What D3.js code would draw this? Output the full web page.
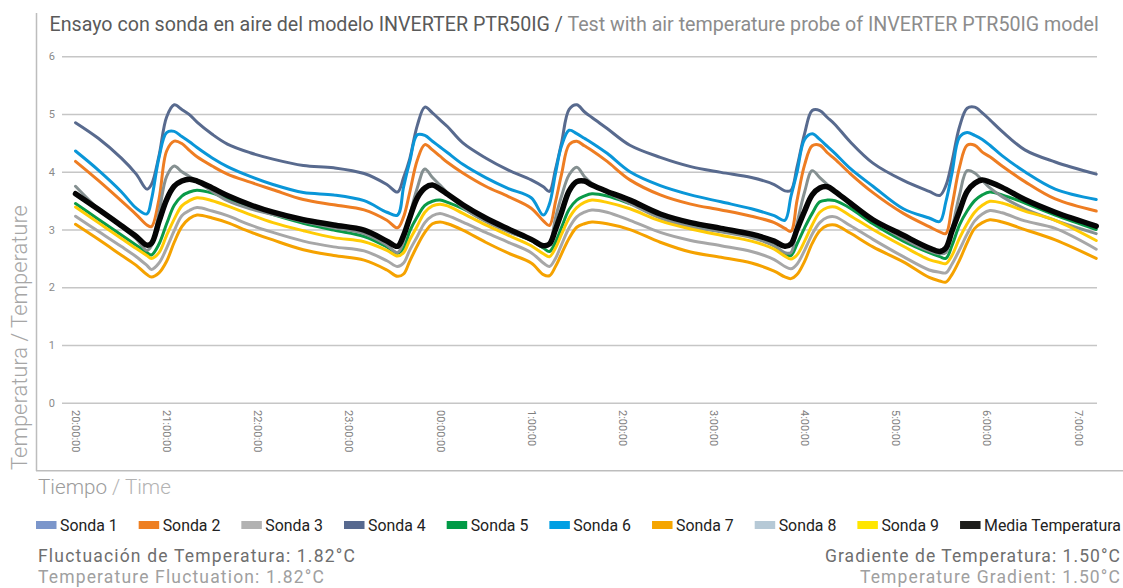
<!DOCTYPE html>
<html><head><meta charset="utf-8">
<script src="https://cdn.jsdelivr.net/npm/d3@7"></script>
<style>body{margin:0;background:#fff;} svg{display:block;font-family:Roboto,"Noto Sans",sans-serif;}</style>
</head><body>
<svg id="c" width="1123" height="588"></svg>
<script>
const times = ["20:00","20:15","20:30","20:40","20:47","20:50","20:55","21:00","21:05","21:10","21:15","21:20","21:30","21:40","21:55","22:10","22:30","22:50","23:10","23:25","23:32","23:36","23:40","23:45","23:50","23:55","00:00","00:05","00:15","00:30","00:45","01:00","01:08","01:12","01:16","01:20","01:25","01:30","01:35","01:40","01:50","02:05","02:25","02:45","03:05","03:25","03:40","03:47","03:51","03:55","04:00","04:05","04:10","04:15","04:20","04:30","04:45","05:05","05:22","05:29","05:33","05:37","05:42","05:47","05:52","05:57","06:02","06:10","06:25","06:45","07:12"];
const tickTimes = ["20:00","21:00","22:00","23:00","00:00","01:00","02:00","03:00","04:00","05:00","06:00","07:00"];
const tickLabels = ["20:00:00","21:00:00","22:00:00","23:00:00","00:00:00","1:00:00","2:00:00","3:00:00","4:00:00","5:00:00","6:00:00","7:00:00"];
const yTicks = [0,1,2,3,4,5,6];
const seriesNames = ["Sonda 1","Sonda 2","Sonda 3","Sonda 4","Sonda 5","Sonda 6","Sonda 7","Sonda 8","Sonda 9","Media Temperatura"];

const sonda1 = [];
const sonda2 = [4.18,3.85,3.50,3.26,3.08,3.05,3.53,4.36,4.53,4.49,4.37,4.26,4.10,3.96,3.82,3.69,3.52,3.43,3.34,3.16,3.03,3.22,3.64,4.20,4.47,4.38,4.27,4.16,3.98,3.75,3.57,3.37,3.15,3.07,3.48,3.96,4.47,4.53,4.45,4.37,4.18,3.86,3.60,3.44,3.34,3.23,3.12,3.02,2.97,3.50,4.12,4.45,4.46,4.33,4.22,3.97,3.64,3.28,3.05,2.96,2.93,3.40,4.08,4.46,4.46,4.34,4.26,4.10,3.83,3.53,3.32];
const sonda3 = [3.23,2.97,2.71,2.53,2.38,2.31,2.42,2.68,2.98,3.24,3.33,3.38,3.32,3.24,3.08,2.95,2.80,2.70,2.63,2.46,2.36,2.42,2.64,2.88,3.12,3.24,3.28,3.24,3.13,2.95,2.78,2.60,2.42,2.36,2.50,2.74,3.03,3.22,3.30,3.34,3.30,3.16,2.95,2.81,2.72,2.62,2.48,2.36,2.32,2.40,2.64,2.92,3.12,3.21,3.22,3.07,2.83,2.53,2.30,2.26,2.25,2.40,2.65,2.92,3.15,3.27,3.33,3.29,3.15,3.02,2.66];
const sonda4 = [4.85,4.58,4.24,3.96,3.70,3.78,4.28,4.95,5.16,5.08,4.99,4.86,4.65,4.48,4.33,4.22,4.11,4.07,3.97,3.78,3.65,3.90,4.22,4.80,5.12,5.02,4.90,4.78,4.50,4.24,4.03,3.86,3.74,3.66,4.04,4.50,5.08,5.16,5.04,4.94,4.75,4.46,4.25,4.09,3.99,3.90,3.78,3.67,3.68,4.08,4.66,5.06,5.06,4.94,4.82,4.52,4.15,3.85,3.66,3.59,3.76,4.17,4.78,5.10,5.12,5.02,4.90,4.70,4.38,4.17,3.96];
const sonda5 = [3.45,3.18,2.91,2.73,2.60,2.56,2.75,3.10,3.42,3.58,3.65,3.68,3.63,3.53,3.39,3.26,3.11,2.99,2.88,2.70,2.59,2.68,2.97,3.22,3.42,3.49,3.51,3.47,3.36,3.15,2.97,2.81,2.68,2.62,2.78,3.04,3.35,3.51,3.58,3.62,3.58,3.45,3.25,3.10,2.99,2.88,2.72,2.58,2.55,2.75,3.03,3.28,3.48,3.51,3.50,3.37,3.10,2.80,2.60,2.53,2.50,2.72,3.08,3.32,3.50,3.60,3.65,3.60,3.46,3.25,3.00];
const sonda6 = [4.36,4.03,3.66,3.37,3.27,3.52,4.25,4.68,4.70,4.61,4.52,4.42,4.24,4.09,3.92,3.78,3.64,3.60,3.50,3.30,3.25,3.74,4.17,4.64,4.63,4.53,4.43,4.33,4.13,3.90,3.71,3.55,3.25,3.44,3.97,4.45,4.72,4.66,4.58,4.50,4.32,4.00,3.76,3.60,3.48,3.36,3.24,3.16,3.57,3.99,4.56,4.66,4.56,4.44,4.32,4.06,3.75,3.36,3.20,3.14,3.48,3.97,4.60,4.68,4.63,4.56,4.46,4.28,4.00,3.70,3.52];
const sonda7 = [3.09,2.83,2.56,2.38,2.22,2.18,2.25,2.45,2.78,3.05,3.19,3.25,3.20,3.12,2.96,2.82,2.65,2.55,2.47,2.30,2.19,2.23,2.45,2.72,2.95,3.10,3.13,3.10,2.99,2.78,2.59,2.42,2.22,2.20,2.36,2.58,2.85,3.04,3.10,3.13,3.10,3.00,2.78,2.61,2.52,2.42,2.28,2.18,2.15,2.22,2.45,2.76,2.98,3.07,3.08,2.94,2.70,2.44,2.17,2.11,2.09,2.22,2.47,2.77,3.02,3.12,3.17,3.13,3.00,2.82,2.50];
const sonda8 = [3.75,3.36,3.05,2.84,2.64,2.72,3.30,3.92,4.10,4.00,3.92,3.83,3.66,3.50,3.36,3.26,3.14,3.03,2.93,2.73,2.60,2.80,3.24,3.72,4.05,3.90,3.77,3.63,3.38,3.14,2.96,2.82,2.70,2.75,3.20,3.58,3.95,4.08,3.92,3.80,3.64,3.45,3.20,3.05,2.96,2.86,2.72,2.60,2.60,3.10,3.65,4.02,3.90,3.78,3.66,3.48,3.17,2.84,2.63,2.58,2.60,3.00,3.60,4.02,3.98,3.85,3.72,3.57,3.36,3.16,2.93];
const sonda9 = [3.39,3.12,2.85,2.67,2.55,2.50,2.60,2.90,3.18,3.41,3.50,3.55,3.50,3.41,3.26,3.12,2.98,2.86,2.79,2.64,2.54,2.60,2.82,3.06,3.30,3.41,3.44,3.41,3.28,3.08,2.90,2.72,2.58,2.53,2.68,2.92,3.20,3.38,3.47,3.51,3.47,3.36,3.15,3.01,2.90,2.80,2.66,2.54,2.49,2.56,2.80,3.08,3.30,3.38,3.39,3.24,3.00,2.71,2.48,2.43,2.41,2.55,2.85,3.10,3.30,3.42,3.49,3.46,3.32,3.16,2.81];
const media = [3.62,3.35,3.07,2.88,2.73,2.76,3.14,3.52,3.75,3.84,3.87,3.84,3.72,3.59,3.43,3.30,3.17,3.08,2.99,2.80,2.71,2.90,3.20,3.55,3.72,3.77,3.70,3.61,3.43,3.20,3.01,2.83,2.72,2.75,3.00,3.30,3.67,3.83,3.84,3.77,3.66,3.51,3.27,3.12,3.02,2.92,2.80,2.71,2.75,3.00,3.32,3.60,3.72,3.74,3.66,3.46,3.17,2.90,2.68,2.62,2.68,2.97,3.32,3.66,3.80,3.86,3.82,3.73,3.52,3.30,3.06];
const seriesValues = [sonda1,sonda2,sonda3,sonda4,sonda5,sonda6,sonda7,sonda8,sonda9,media];

const legendColors = ["#7B96CB","#EE7F22","#B2B2B2","#57698F","#009A46","#009FE3","#F5A500","#B6C9D6","#FFE600","#1D1D1B"];
const lineColors   = ["#7B96CB","#EE7D22","#A7A7A7","#586A8E","#0A9A48","#0A96D8","#F5A200","#859091","#FFCB05","#050505"];
const lineWidths   = [3,3,3,3,3,3,3,3,3,5.5];

const svg = d3.select("#c");
function toMin(s){const [h,m]=s.split(":").map(Number); let v=h*60+m; if(h<12) v+=1440; return v-1200;}
function fit(sel, target){const w=sel.node().getComputedTextLength(); const fs=parseFloat(sel.attr("font-size")); sel.attr("font-size", fs*target/w); return sel;}
function spread(sel, target){const w=sel.node().getComputedTextLength(); const n=sel.text().length; sel.attr("letter-spacing",(target-w)/n); return sel;}

const x = d3.scaleLinear().domain([0,660]).range([75.5,1078]);
const y = d3.scaleLinear().domain([0,6]).range([402.8,56.3]);

// frame
svg.append("line").attr("x1",36.5).attr("x2",36.5).attr("y1",13).attr("y2",471).attr("stroke","#bdbdbd").attr("stroke-width",1.5);
svg.append("line").attr("x1",36).attr("x2",1123).attr("y1",470.8).attr("y2",470.8).attr("stroke","#bdbdbd").attr("stroke-width",1.5);

// title
const title = svg.append("text").attr("x",49.5).attr("y",31).attr("font-size",18);
title.append("tspan").attr("fill","#5a5a5a").text("Ensayo con sonda en aire del modelo INVERTER PTR50IG / ");
title.append("tspan").attr("fill","#8c8c8c").text("Test with air temperature probe of INVERTER PTR50IG model");
fit(title, 1050);

// y grid + labels
const gy = svg.append("g").attr("transform","translate(62,0)")
  .call(d3.axisLeft(y).tickValues(yTicks).tickSize(-1035).tickPadding(7).tickFormat(d3.format("d")));
gy.select(".domain").remove();
gy.selectAll(".tick line").attr("stroke","#c6c6c6").attr("stroke-width",1.5);
gy.selectAll(".tick text").attr("fill","#8a8a8a").attr("font-size",11).attr("font-family","Roboto");

// x labels
const gx = svg.append("g").attr("transform","translate(0,405)")
  .call(d3.axisBottom(x).tickValues(tickTimes.map(toMin)).tickSize(0).tickFormat((d,i)=>tickLabels[i]));
gx.select(".domain").remove();
gx.selectAll(".tick text").attr("fill","#7e7e7e").attr("font-size",11).attr("font-family","Roboto")
  .attr("text-anchor","start").attr("dy",null).attr("y",0).attr("transform","translate(-4,5) rotate(90)");

// lines
const tMin = times.map(toMin);
const line = d3.line().x(d=>x(d[0])).y(d=>y(d[1])).curve(d3.curveCatmullRom.alpha(0.5));
seriesValues.forEach((vals,i)=>{
  if(!vals.length) return;
  svg.append("path").datum(vals.map((v,j)=>[tMin[j],v]))
    .attr("d",line).attr("fill","none").attr("stroke",lineColors[i])
    .attr("stroke-width",lineWidths[i]).attr("stroke-linejoin","round").attr("stroke-linecap","round");
});

// axis titles
const yt = svg.append("text").attr("transform","translate(27,470) rotate(-90)").attr("font-size",20).attr("font-weight",300);
yt.append("tspan").attr("fill","#a6a6a6").text("Temperatura / Temperature");
fit(yt,265);
const xt = svg.append("text").attr("x",38).attr("y",493.5).attr("font-size",19).attr("font-weight",300);
xt.append("tspan").attr("fill","#9c9c9c").text("Tiempo ");
xt.append("tspan").attr("fill","#b3b3b3").text("/ Time");
fit(xt,133);

// legend
const lg = svg.append("g");
const items = seriesNames.map((n,i)=>lg.append("text").attr("font-size",16).attr("fill","#222").attr("y",531).text(n));
const base = items[9].node().getComputedTextLength();
const lfs = 16*137/base;
items.forEach(t=>t.attr("font-size",lfs));
const widths = items.map(t=>t.node().getComputedTextLength());
const totalW = d3.sum(widths) + 24*10;
const gap = (1121-36-totalW)/9;
let lx = 36;
items.forEach((t,i)=>{
  lg.append("rect").attr("x",lx).attr("y",521).attr("width",20.5).attr("height",8).attr("fill",legendColors[i]);
  t.attr("x",lx+24);
  lx += 24 + widths[i] + gap;
});

// footer
const fs = 17.5;
const f1 = svg.append("text").attr("x",38).attr("y",562).attr("font-size",fs).attr("fill","#6e6e6e").text("Fluctuación de Temperatura: 1.82°C");
spread(f1,318);
const f2 = svg.append("text").attr("x",38).attr("y",583).attr("font-size",fs).attr("fill","#a0a0a0").text("Temperature Fluctuation: 1.82°C");
spread(f2,287);
const f3 = svg.append("text").attr("x",1121).attr("y",562).attr("text-anchor","end").attr("font-size",fs).attr("fill","#6e6e6e").text("Gradiente de Temperatura: 1.50°C");
spread(f3,296);
const f4 = svg.append("text").attr("x",1121).attr("y",583).attr("text-anchor","end").attr("font-size",fs).attr("fill","#a0a0a0").text("Temperature Gradient: 1.50°C");
spread(f4,261);
</script>
</body></html>
